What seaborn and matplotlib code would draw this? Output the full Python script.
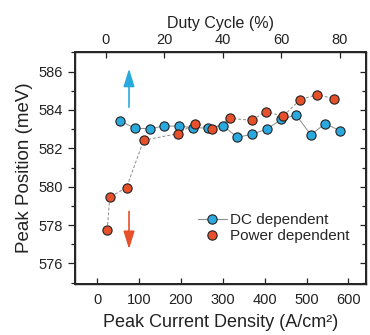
import matplotlib
matplotlib.use("Agg")
import matplotlib.pyplot as plt
import seaborn as sns
import pandas as pd
import numpy as np
from matplotlib.lines import Line2D
from matplotlib.ticker import MultipleLocator, NullLocator, FixedLocator

# ---- data ----
dc_current = [55, 90, 125, 160, 195, 230, 265, 300, 335, 370, 405, 440, 475, 510, 545, 580]
dc_peak = [583.43, 583.05, 583.02, 583.17, 583.15, 583.08, 583.05, 583.19, 582.57, 582.74,
           583.0, 583.51, 583.74, 582.71, 583.29, 582.91]
pw_current = [24, 30, 70, 111, 192, 234, 275, 317, 369, 402, 444, 485, 525, 565]
pw_peak = [577.75, 579.45, 579.95, 582.42, 582.76, 583.29, 583.0, 583.56, 583.46, 583.91,
           583.68, 584.54, 584.80, 584.59]
duty_ticks = [0, 20, 40, 60, 80]
series_labels = ["DC dependent", "Power dependent"]

BLUE = "#2aa9df"
RED = "#e6502a"
INK = "#222222"

sns.set_theme(style="ticks")
plt.rcParams["font.family"] = ["Liberation Sans", "DejaVu Sans"]
plt.rcParams["xtick.minor.visible"] = False

fig = plt.figure(figsize=(3.70, 3.35), dpi=100)
ax = fig.add_axes([75/370, 1-283.5/335, (366-75)/370, (283.5-51.5)/335])

df_dc = pd.DataFrame({"x": dc_current, "y": dc_peak})
df_pw = pd.DataFrame({"x": pw_current, "y": pw_peak})

sns.lineplot(data=df_dc, x="x", y="y", ax=ax, sort=False, color="#8c8c8c", lw=0.7,
             zorder=2)
sns.lineplot(data=df_pw, x="x", y="y", ax=ax, sort=False, color="#8c8c8c", lw=0.7,
             linestyle=(0, (3, 2)), zorder=2)
sns.scatterplot(data=df_dc, x="x", y="y", ax=ax, color=BLUE, edgecolor=INK,
                linewidth=0.8, s=44, zorder=3)
sns.scatterplot(data=df_pw, x="x", y="y", ax=ax, color=RED, edgecolor=INK,
                linewidth=0.8, s=44, zorder=4)

ax.annotate("", xy=(76, 586.3), xytext=(76, 584.0),
            arrowprops=dict(arrowstyle="-|>,head_length=0.9,head_width=0.28",
                            color=BLUE, lw=1.2))
ax.annotate("", xy=(76, 576.6), xytext=(76, 578.85),
            arrowprops=dict(arrowstyle="-|>,head_length=0.9,head_width=0.28",
                            color=RED, lw=1.2))

XLIM = (-53, 642)
ax.set_xlim(*XLIM)
ax.set_ylim(574.95, 587.05)
ax.xaxis.set_major_locator(MultipleLocator(100))
ax.xaxis.set_minor_locator(NullLocator())
ax.yaxis.set_major_locator(MultipleLocator(2))
ax.yaxis.set_minor_locator(MultipleLocator(1))

for s in ax.spines.values():
    s.set_linewidth(1.0)
    s.set_color(INK)

ax.tick_params(axis="x", which="both", direction="in", length=4, width=0.9,
               labelsize=10.5, colors=INK, pad=7, top=False)
ax.tick_params(axis="y", which="major", direction="out", length=5, width=0.9,
               labelsize=10.5, colors=INK, left=True, right=False)
ax.tick_params(axis="y", which="minor", direction="out", length=3, width=0.9,
               left=True, right=False, colors=INK)

axr = ax.twinx()
axr.set_ylim(ax.get_ylim())
axr.yaxis.set_major_locator(MultipleLocator(2))
axr.yaxis.set_minor_locator(MultipleLocator(1))
axr.tick_params(axis="y", which="major", direction="in", length=4, width=0.9,
                labelright=False, colors=INK)
axr.tick_params(axis="y", which="minor", direction="in", length=3, width=0.9,
                labelright=False, colors=INK)
axr.tick_params(axis="x", which="both", bottom=False, top=False)

# top duty-cycle axis (J = 20 + 7 * duty)
axt = ax.twiny()
axt.set_xlim((XLIM[0] - 20) / 7.0, (XLIM[1] - 20) / 7.0)
axt.xaxis.set_major_locator(FixedLocator(duty_ticks))
axt.xaxis.set_minor_locator(NullLocator())
axt.tick_params(axis="x", which="major", direction="in", length=4, width=0.9,
                labelsize=10.5, colors=INK, pad=3, bottom=False, top=True)
axt.tick_params(axis="x", which="minor", bottom=False, top=False)
axt.tick_params(axis="y", which="both", left=False, right=False,
                labelleft=False, labelright=False)
axt.set_xlabel("Duty Cycle (%)", fontsize=11.5, labelpad=4, color=INK)

ax.set_xlabel("Peak Current Density (A/cm²)", fontsize=13, labelpad=5, color=INK)
ax.set_ylabel("Peak Position (meV)", fontsize=13.5, labelpad=4, color=INK)

handles = [
    Line2D([0], [0], color="#8c8c8c", lw=0.8, marker="o", markersize=6.7,
           markerfacecolor=BLUE, markeredgecolor=INK, markeredgewidth=0.8),
    Line2D([0], [0], color="none", marker="o", markersize=6.7,
           markerfacecolor=RED, markeredgecolor=INK, markeredgewidth=0.8),
]
ax.legend(handles, series_labels, loc="upper left", bbox_to_anchor=(0.40, 0.33),
          frameon=False, fontsize=11, handlelength=1.95, handletextpad=0.15,
          labelspacing=0.12, borderaxespad=0)

fig.savefig("out.png", dpi=100)
